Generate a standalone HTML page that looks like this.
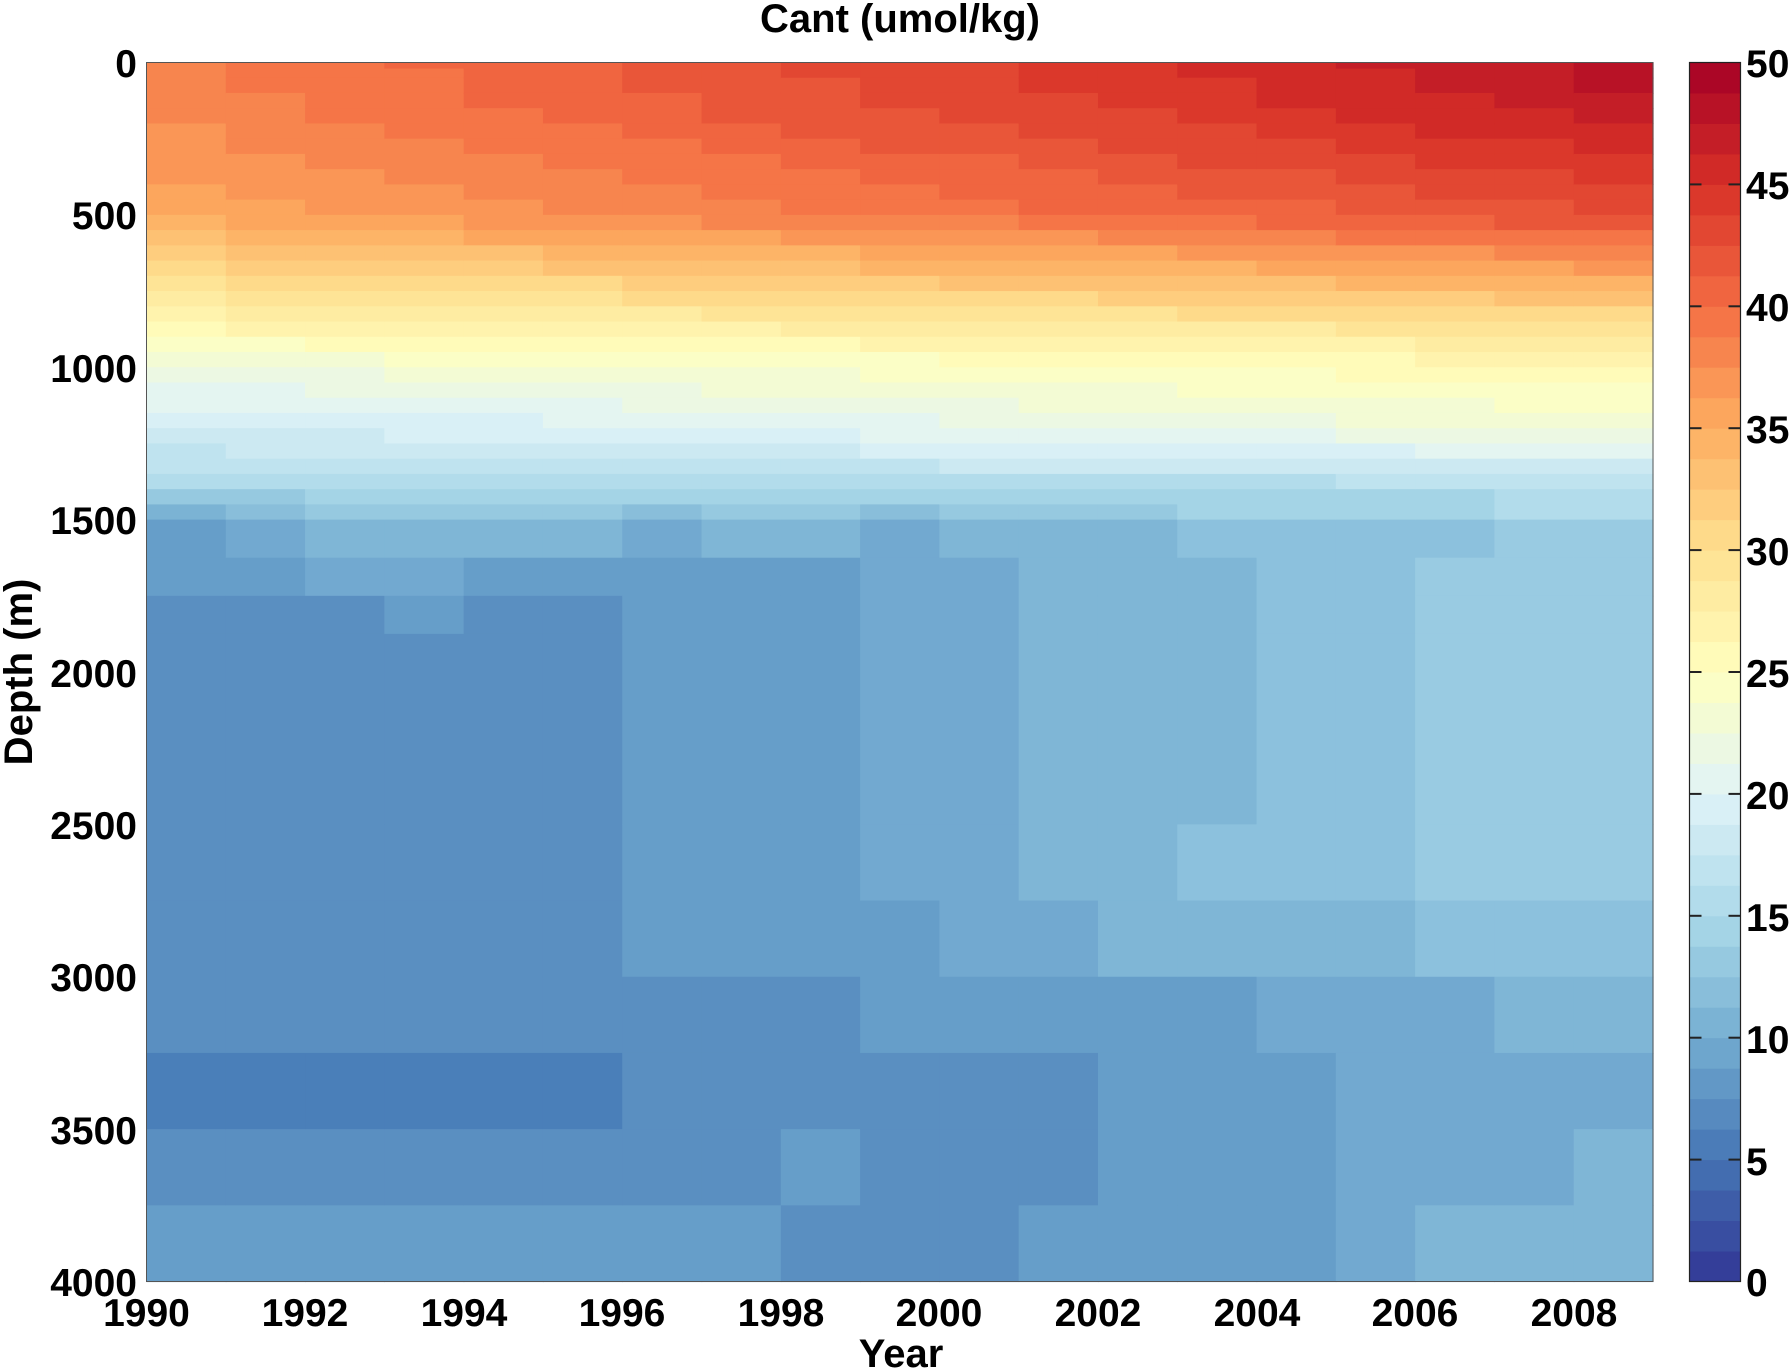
<!DOCTYPE html>
<html><head><meta charset="utf-8">
<style>
html,body{margin:0;padding:0;background:#fff;}
svg{display:block;}
text{font-family:"Liberation Sans",Arial,sans-serif;font-weight:bold;fill:#000;}
</style></head>
<body>
<svg id="s" width="1791" height="1369" xmlns="http://www.w3.org/2000/svg">
<g id="cells"></g>
<rect x="146.5" y="62.5" width="1506.5" height="1219" fill="none" stroke="#555" stroke-width="1"/>
<g id="cb"></g>
<rect x="1689.5" y="62.5" width="51" height="1219" fill="none" stroke="#222" stroke-width="1.2"/>
<g id="labels" font-size="39">
<text x="900" y="32" text-anchor="middle" font-size="40">Cant (umol/kg)</text>
<text x="137" y="77" text-anchor="end">0</text>
<text x="137" y="229" text-anchor="end">500</text>
<text x="137" y="382" text-anchor="end">1000</text>
<text x="137" y="534" text-anchor="end">1500</text>
<text x="137" y="687" text-anchor="end">2000</text>
<text x="137" y="839" text-anchor="end">2500</text>
<text x="137" y="991" text-anchor="end">3000</text>
<text x="137" y="1144" text-anchor="end">3500</text>
<text x="137" y="1296" text-anchor="end">4000</text>
<g text-anchor="middle">
<text x="146.5" y="1326">1990</text>
<text x="305" y="1326">1992</text>
<text x="464" y="1326">1994</text>
<text x="622" y="1326">1996</text>
<text x="781" y="1326">1998</text>
<text x="939" y="1326">2000</text>
<text x="1098" y="1326">2002</text>
<text x="1257" y="1326">2004</text>
<text x="1415" y="1326">2006</text>
<text x="1574" y="1326">2008</text>
<text x="901" y="1367" font-size="40">Year</text>
</g>
<text transform="translate(32,672) rotate(-90)" text-anchor="middle" font-size="40">Depth (m)</text>
<g>
<text x="1746" y="77">50</text>
<text x="1746" y="199">45</text>
<text x="1746" y="321">40</text>
<text x="1746" y="443">35</text>
<text x="1746" y="565">30</text>
<text x="1746" y="687">25</text>
<text x="1746" y="809">20</text>
<text x="1746" y="931">15</text>
<text x="1746" y="1053">10</text>
<text x="1746" y="1175">5</text>
<text x="1746" y="1296">0</text>
</g>
</g>
</svg>
<script>
var stops=[[49,54,149],[69,117,180],[116,173,209],[171,217,233],[224,243,248],[255,255,191],[254,224,144],[253,174,97],[244,109,67],[215,48,39],[165,0,38]];
function cmap(f){f=Math.max(0,Math.min(1,f));var p=f*10,i=Math.min(9,Math.floor(p)),t=p-i,a=stops[i],b=stops[i+1];
return "rgb("+Math.round(a[0]+(b[0]-a[0])*t)+","+Math.round(a[1]+(b[1]-a[1])*t)+","+Math.round(a[2]+(b[2]-a[2])*t)+")";}
function lev(v){var k=Math.floor(v/1.25);k=Math.max(0,Math.min(39,k));return cmap((k+0.5)/40);}
var NS="http://www.w3.org/2000/svg";
function rect(g,x,y,w,h,c){var r=document.createElementNS(NS,"rect");r.setAttribute("x",x);r.setAttribute("y",y);r.setAttribute("width",w);r.setAttribute("height",h);r.setAttribute("fill",c);g.appendChild(r);}
var X0=146.5,X1=1653,Y0=62.5,Y1=1281.5,cw=(X1-X0)/19,sc=(Y1-Y0)/4000;
var cells=document.getElementById("cells");
var L={A:"#4a7fb9",B:"#5a8fc1",C:"#669ec9",D:"#72a9d0",E:"#7fb6d6",F:"#8cc1dd",G:"#99cbe2"};
var V={A:7.5,B:8.75,C:10,D:11.25,E:12.5,F:13.75,G:15};
var deep=[
"CDEEEEDEEDEEEFFFFGG",
"CCDDCCCCCDDEEEFFGGG",
"BBBCBBCCCDDEEEFFGGG",
"BBBBBBCCCDDEEEFFGGG",
"BBBBBBCCCDDEEFFFGGG",
"BBBBBBCCCCDDEEEEFFF",
"BBBBBBBBBCCCCCDDDEE",
"AAAAAABBBBBBCCCDDDD",
"BBBBBBBBCBBBCCCDDDE",
"CCCCCCCCBBBCCCCDEEE"];
var dz=[1500,1625,1750,1875,2500,2750,3000,3250,3500,3750,4000];
var rows=[0,20,50,100,150,200,250,300,350,400,450,500,550,600,650,700,750,800,850,900,950,1000,1050,1100,1150,1200,1250,1300,1350,1400,1450,1500];
for(var i=0;i<19;i++){
 var t=i/18;
 var pts=[[0,38.5+9.5*t],[150,38+9*t],[500,35.5+7*t],[900,25.5+3*t],[1000,22.5+3.5*t],[1200,18.5+4.5*t],[1300,17+2.5*t],[1400,14.5+1*t],[1500,V[deep[0][i]]]];
 var x=X0+i*cw;
 for(var q=0;q<rows.length-1;q++){
  var d=rows[q],d2=rows[q+1];
  var dm=(d+d2)/2,v=pts[0][1];
  for(var j=0;j<pts.length-1;j++){if(dm>=pts[j][0]&&dm<=pts[j+1][0]){var f=(dm-pts[j][0])/(pts[j+1][0]-pts[j][0]);v=pts[j][1]+(pts[j+1][1]-pts[j][1])*f;}}
  rect(cells,x,Y0+d*sc,cw+0.6,(d2-d)*sc+0.6,lev(v));
 }
 for(var r=0;r<10;r++){
  rect(cells,x,Y0+dz[r]*sc,cw+0.6,(dz[r+1]-dz[r])*sc+0.6,L[deep[r][i]]);
 }
}
var cb=document.getElementById("cb");
var bh=(Y1-Y0)/40;
for(var k=0;k<40;k++){rect(cb,1689.5,Y1-(k+1)*bh,51,bh+0.5,cmap((k+0.5)/40));}
for(var m=1;m<10;m++){var y=Y1-m*4*bh;
 rect(cb,1689.5,y-1,12,2,"#222");rect(cb,1728.5,y-1,12,2,"#222");}
</script>
</body></html>
